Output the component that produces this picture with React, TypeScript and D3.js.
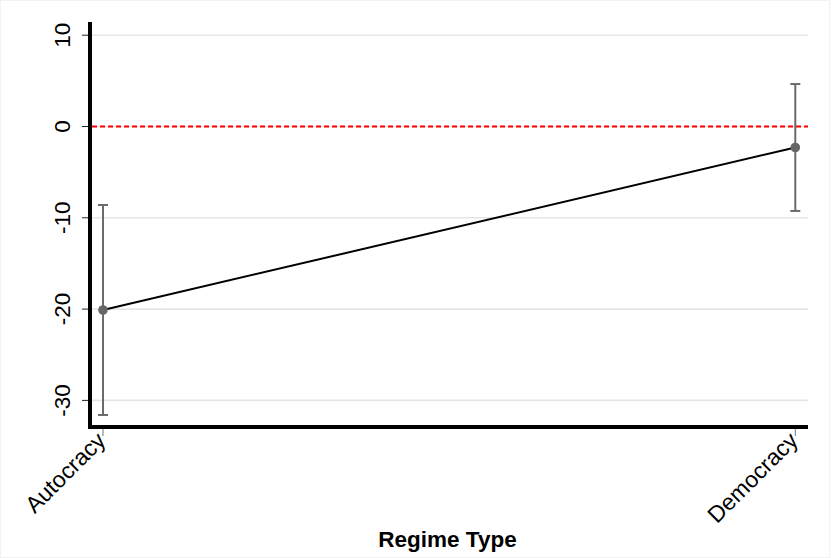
import React from "react";
import * as d3 from "d3";

const categories = ["Autocracy", "Democracy"];
const estimates = [-20.1, -2.3];
const ciLower = [-31.6, -9.25];
const ciUpper = [-8.6, 4.65];
const yTicks = [-30, -20, -10, 0, 10];
const xTitle = "Regime Type";

export default function App() {
  const W = 835;
  const H = 558;
  const y = d3.scaleLinear().domain([-30, 10]).range([400.4, 35.2]);
  const x = d3.scalePoint<string>().domain(categories).range([103, 795.3]);
  const plotLeft = 92;
  const plotRight = 808;
  const axisY = 427;
  const font = "Liberation Sans, Arial, Helvetica, sans-serif";
  const line = d3
    .line<number>()
    .x((_, i) => x(categories[i]) as number)
    .y((d) => y(d));

  return (
    <svg
      width={W}
      height={H}
      style={{ position: "absolute", left: 0, top: 0, background: "#fff" }}
      fontFamily={font}
    >
      <rect x={0.5} y={0.5} width={829} height={557} fill="#fff" stroke="#f2f2f2" />
      {yTicks.map((t) => (
        <line key={"g" + t} x1={plotLeft} x2={plotRight} y1={y(t)} y2={y(t)} stroke="#e6e6e6" strokeWidth={1.6} />
      ))}
      {yTicks.map((t) => (
        <g key={"t" + t}>
          <line x1={82} x2={88} y1={y(t)} y2={y(t)} stroke="#222" strokeWidth={1} />
          <text
            transform={`translate(70,${y(t)}) rotate(-90)`}
            textAnchor="middle"
            fontSize={22.5}
            fill="#000"
          >
            {t}
          </text>
        </g>
      ))}
      <line x1={plotLeft} x2={plotRight} y1={y(0)} y2={y(0)} stroke="#ff0000" strokeWidth={2} strokeDasharray="5,3" />
      <path d={line(estimates) || ""} fill="none" stroke="#000" strokeWidth={2} />
      {categories.map((c, i) => {
        const cx = x(c) as number;
        return (
          <g key={c}>
            <line x1={cx} x2={cx} y1={y(ciLower[i])} y2={y(ciUpper[i])} stroke="#6b6b6b" strokeWidth={2} />
            <line x1={cx - 5} x2={cx + 5} y1={y(ciLower[i])} y2={y(ciLower[i])} stroke="#6b6b6b" strokeWidth={2} />
            <line x1={cx - 5} x2={cx + 5} y1={y(ciUpper[i])} y2={y(ciUpper[i])} stroke="#6b6b6b" strokeWidth={2} />
            <circle cx={cx} cy={y(estimates[i])} r={4.8} fill="#666" />
          </g>
        );
      })}
      <line x1={90} x2={90} y1={22} y2={429} stroke="#000" strokeWidth={4} />
      <line x1={88} x2={808} y1={axisY} y2={axisY} stroke="#000" strokeWidth={4} />
      {categories.map((c) => {
        const cx = x(c) as number;
        return (
          <g key={"x" + c}>
            <line x1={cx} x2={cx} y1={429} y2={436} stroke="#777" strokeWidth={1} />
            <text
              transform={`translate(${cx + 4},${442}) rotate(-45)`}
              textAnchor="end"
              fontSize={23}
              fill="#000"
            >
              {c}
            </text>
          </g>
        );
      })}
      <text x={447.5} y={547} textAnchor="middle" fontSize={22.5} fontWeight="bold" fill="#000">
        {xTitle}
      </text>
    </svg>
  );
}
